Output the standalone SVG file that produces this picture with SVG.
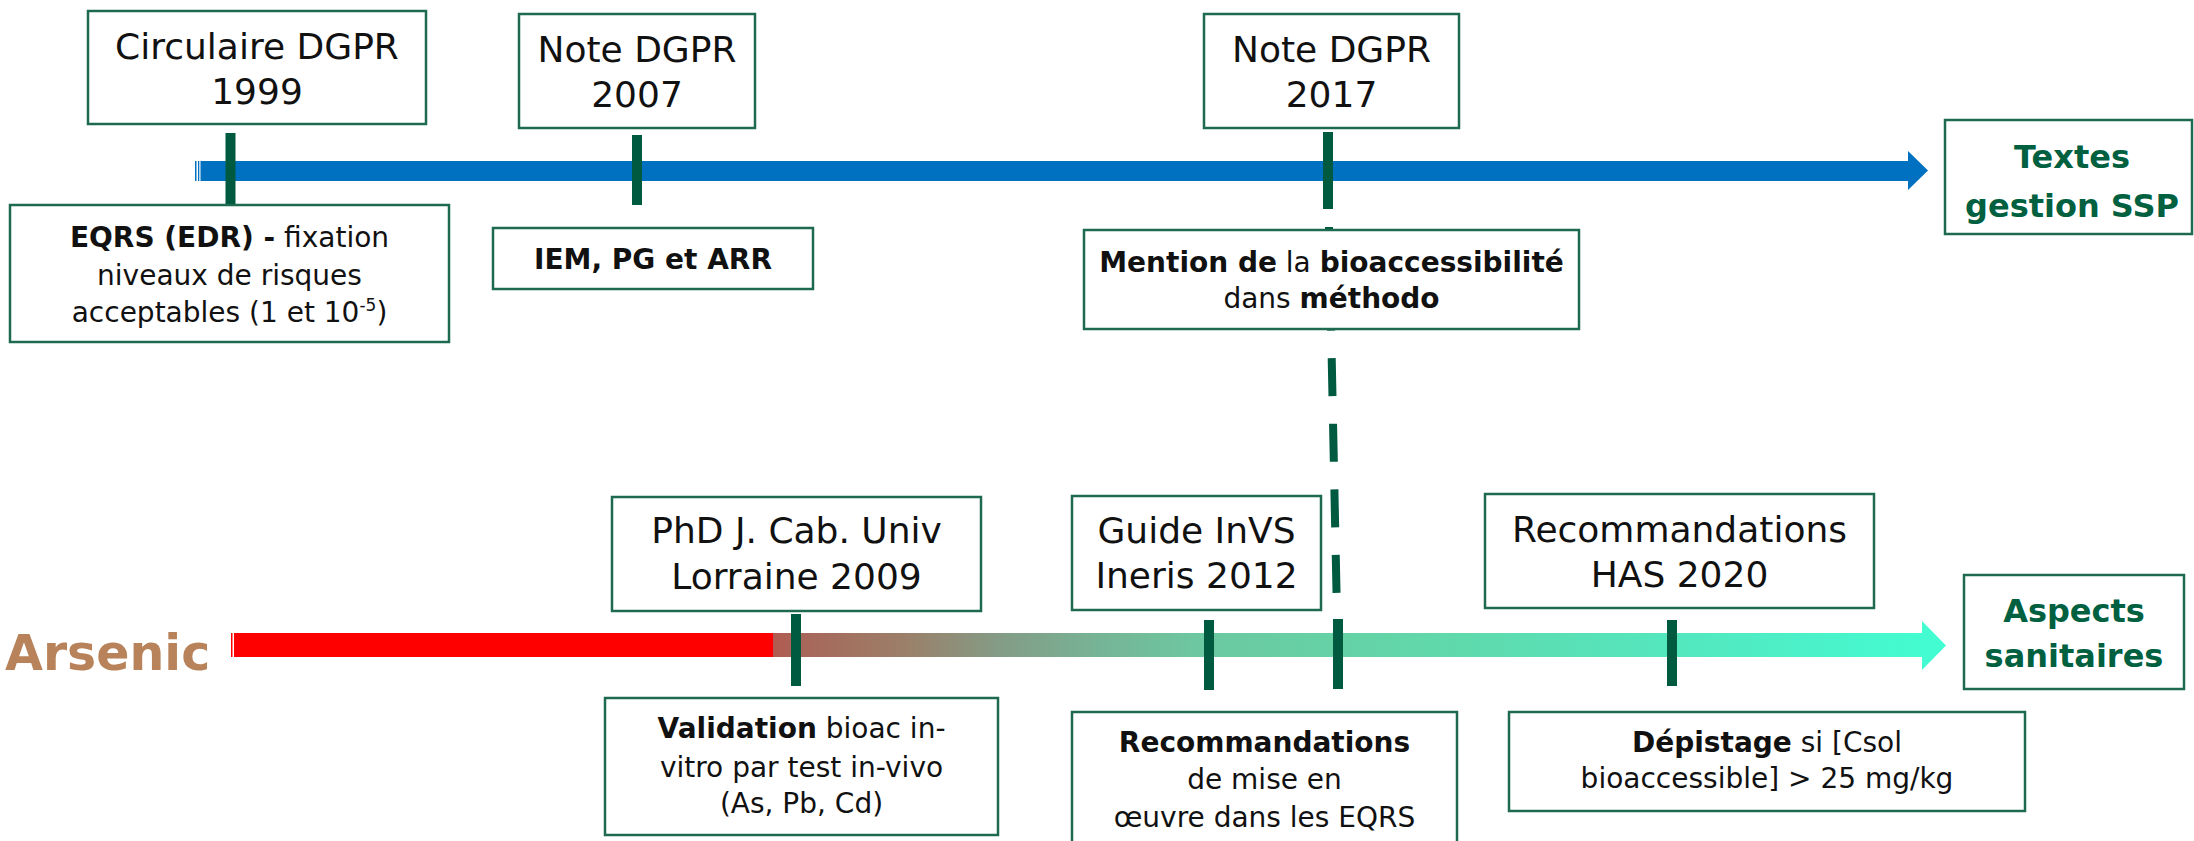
<svg xmlns="http://www.w3.org/2000/svg" width="2194" height="841" viewBox="0 0 2194 841">
<defs>
<style>
.box{fill:#fff;stroke:#1e6a4e;stroke-width:2.5}
.t{font-family:"DejaVu Sans",sans-serif;fill:#111;text-anchor:middle}
.title{font-size:36px}
.desc{font-size:28px}
.b{font-weight:bold}
.green{fill:#00603f;font-weight:bold;font-size:32px}
.tick{stroke:#005a3f;stroke-width:10}
</style>
<linearGradient id="grad" gradientUnits="userSpaceOnUse" x1="234" y1="0" x2="1946" y2="0">
<stop offset="0" stop-color="#ff0000"/>
<stop offset="0.3148" stop-color="#ff0000"/>
<stop offset="0.315" stop-color="#b25a50"/>
<stop offset="0.3306" stop-color="#a8665a"/>
<stop offset="0.389" stop-color="#9c7e68"/>
<stop offset="0.4474" stop-color="#849c86"/>
<stop offset="0.5058" stop-color="#76b496"/>
<stop offset="0.5643" stop-color="#6cc8a0"/>
<stop offset="0.681" stop-color="#62d6a8"/>
<stop offset="0.798" stop-color="#58e2b8"/>
<stop offset="0.9147" stop-color="#4cf0c8"/>
<stop offset="1" stop-color="#42fed2"/>
</linearGradient>
</defs>
<rect width="2194" height="841" fill="#fff"/>
<g id="connectors">
<rect x="195" y="161" width="1.5" height="20" fill="#0070c0"/>
<rect x="198" y="161" width="1.3" height="20" fill="#0070c0"/>
<path d="M200.5,161 H1908 V151 L1928,170.5 L1908,190 V181 H200.5 Z" fill="#0070c0"/>
<rect x="231" y="633" width="1.5" height="24" fill="#ff0000"/>
<path d="M234,633 H1922 V621 L1946,645.5 L1922,670 V657 H234 Z" fill="url(#grad)"/>
<line class="tick" x1="230.5" y1="133" x2="230.5" y2="204"/>
<line class="tick" x1="637" y1="135" x2="637" y2="205"/>
<line class="tick" x1="1328" y1="132" x2="1328" y2="209"/>
<line x1="1329" y1="227" x2="1338.5" y2="689" stroke="#005a3f" stroke-width="8" stroke-dasharray="38 27.6"/>
<line class="tick" x1="796" y1="614" x2="796" y2="686"/>
<line class="tick" x1="1209" y1="620" x2="1209" y2="690"/>
<line class="tick" x1="1338" y1="619" x2="1338" y2="689"/>
<line class="tick" x1="1672" y1="620" x2="1672" y2="686"/>
</g>
<g id="n-circulaire">
<rect class="box" x="88" y="11" width="338" height="113"/>
<text class="t title" x="257" y="59">Circulaire DGPR</text>
<text class="t title" x="257" y="104">1999</text>
</g>
<g id="n-note2007">
<rect class="box" x="519" y="14" width="236" height="114"/>
<text class="t title" x="637" y="62">Note DGPR</text>
<text class="t title" x="637" y="107">2007</text>
</g>
<g id="n-note2017">
<rect class="box" x="1204" y="14" width="255" height="114"/>
<text class="t title" x="1331.5" y="62">Note DGPR</text>
<text class="t title" x="1331.5" y="107">2017</text>
</g>
<g id="n-eqrs">
<rect class="box" x="10" y="205" width="439" height="137"/>
<text class="t desc" x="229.5" y="247"><tspan class="b">EQRS (EDR) -</tspan> fixation</text>
<text class="t desc" x="229.5" y="285">niveaux de risques</text>
<text class="t desc" x="229.5" y="322">acceptables (1 et 10<tspan font-size="17" dy="-11">-5</tspan><tspan dy="11">)</tspan></text>
</g>
<g id="n-iem">
<rect class="box" x="493" y="228" width="320" height="61"/>
<text class="t desc b" x="653" y="269">IEM, PG et ARR</text>
</g>
<g id="n-mention">
<rect class="box" x="1084" y="230" width="495" height="99"/>
<text class="t desc" x="1331.5" y="272"><tspan class="b">Mention de</tspan> la <tspan class="b">bioaccessibilité</tspan></text>
<text class="t desc" x="1331.5" y="308">dans <tspan class="b">méthodo</tspan></text>
</g>
<g id="n-textes">
<rect class="box" x="1945" y="120" width="247" height="114"/>
<text class="t green" x="2072" y="168">Textes</text>
<text class="t green" x="2072" y="217">gestion SSP</text>
</g>
<g id="n-arsenic">
<text x="5" y="670" font-family="DejaVu Sans,sans-serif" font-weight="bold" font-size="49" fill="#b8835a">Arsenic</text>
</g>
<g id="n-phd">
<rect class="box" x="612" y="497" width="369" height="114"/>
<text class="t title" x="796.5" y="543">PhD J. Cab. Univ</text>
<text class="t title" x="796.5" y="589">Lorraine 2009</text>
</g>
<g id="n-validation">
<rect class="box" x="605" y="698" width="393" height="137"/>
<text class="t desc" x="801.5" y="738"><tspan class="b">Validation</tspan> bioac in-</text>
<text class="t desc" x="801.5" y="777">vitro par test in-vivo</text>
<text class="t desc" x="801.5" y="813">(As, Pb, Cd)</text>
</g>
<g id="n-guide">
<rect class="box" x="1072" y="496" width="249" height="114"/>
<text class="t title" x="1196.5" y="543">Guide InVS</text>
<text class="t title" x="1196.5" y="588">Ineris 2012</text>
</g>
<g id="n-has">
<rect class="box" x="1485" y="494" width="389" height="114"/>
<text class="t title" x="1679.5" y="542">Recommandations</text>
<text class="t title" x="1679.5" y="587">HAS 2020</text>
</g>
<g id="n-aspects">
<rect class="box" x="1964" y="575" width="220" height="114"/>
<text class="t green" x="2074" y="622">Aspects</text>
<text class="t green" x="2074" y="667">sanitaires</text>
</g>
<g id="n-reco">
<rect class="box" x="1072" y="712" width="385" height="150"/>
<text class="t desc" x="1264.5" y="752"><tspan class="b">Recommandations</tspan></text>
<text class="t desc" x="1264.5" y="789">de mise en</text>
<text class="t desc" x="1264.5" y="827">œuvre dans les EQRS</text>
</g>
<g id="n-depistage">
<rect class="box" x="1509" y="712" width="516" height="99"/>
<text class="t desc" x="1767" y="752"><tspan class="b">Dépistage</tspan> si [Csol</text>
<text class="t desc" x="1767" y="788">bioaccessible] &gt; 25 mg/kg</text>
</g>
</svg>
